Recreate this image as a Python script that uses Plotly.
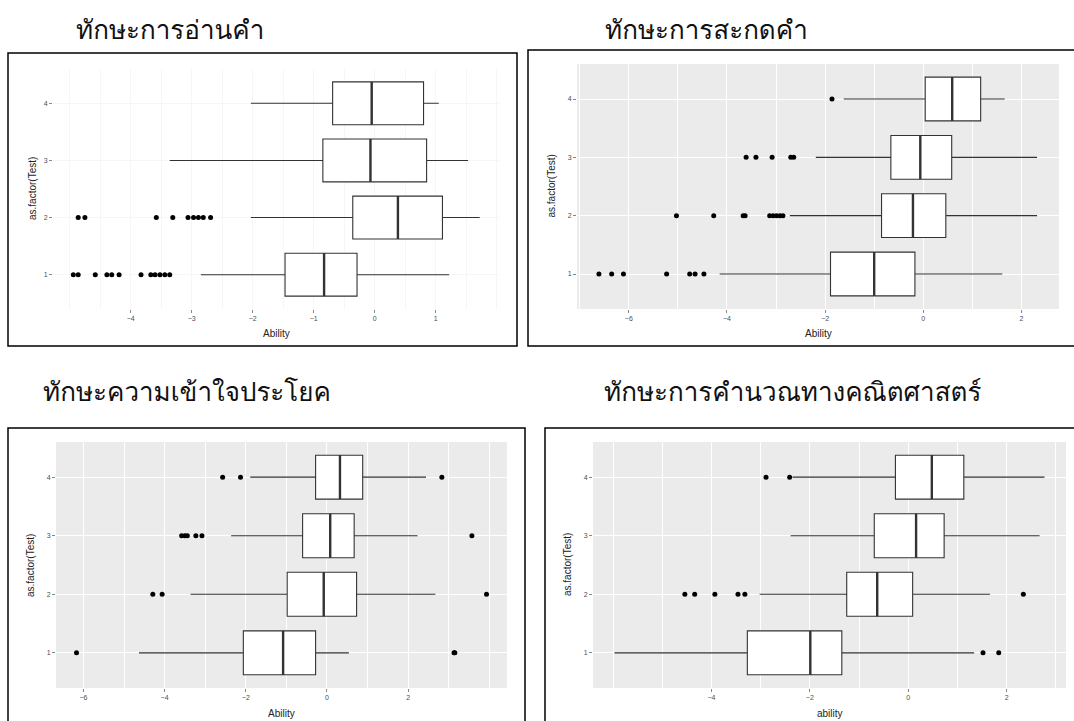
import plotly.graph_objects as go

# ---------------- data ----------------
tests = [1, 2, 3, 4]

# Reading skill
read_q1 = [-1.47, -0.36, -0.85, -0.69]
read_med = [-0.83, 0.38, -0.07, -0.05]
read_q3 = [-0.29, 1.11, 0.85, 0.80]
read_lo = [-2.85, -2.03, -3.36, -2.03]
read_hi = [1.22, 1.72, 1.53, 1.05]
read_out = {
    1: [-4.94, -4.86, -4.58, -4.39, -4.31, -4.19, -3.83, -3.67, -3.60, -3.52, -3.44, -3.36],
    2: [-4.86, -4.75, -3.58, -3.31, -3.06, -2.97, -2.89, -2.81, -2.69],
    3: [],
    4: [],
}

# Spelling skill
spell_q1 = [-1.89, -0.85, -0.66, 0.04]
spell_med = [-1.00, -0.21, -0.06, 0.59]
spell_q3 = [-0.17, 0.46, 0.58, 1.17]
spell_lo = [-4.15, -2.72, -2.19, -1.62]
spell_hi = [1.61, 2.32, 2.32, 1.66]
spell_out = {
    1: [-6.61, -6.35, -6.11, -5.23, -4.76, -4.65, -4.47],
    2: [-5.03, -4.27, -3.67, -3.63, -3.13, -3.06, -2.99, -2.92, -2.86],
    3: [-3.61, -3.41, -3.08, -2.70, -2.64],
    4: [-1.86],
}

# Sentence comprehension skill
sent_q1 = [-2.06, -0.98, -0.60, -0.28]
sent_med = [-1.08, -0.08, 0.08, 0.32]
sent_q3 = [-0.28, 0.73, 0.67, 0.88]
sent_lo = [-4.63, -3.36, -2.36, -1.89]
sent_hi = [0.54, 2.67, 2.23, 2.44]
sent_out = {
    1: [-6.17, 3.13, 3.15],
    2: [-4.29, -4.06, 3.93],
    3: [-3.58, -3.50, -3.44, -3.23, -3.08, 3.57],
    4: [-2.57, -2.13, 2.83],
}

# Mathematical calculation skill
math_q1 = [-3.27, -1.25, -0.69, -0.26]
math_med = [-1.99, -0.63, 0.16, 0.48]
math_q3 = [-1.35, 0.09, 0.73, 1.13]
math_lo = [-5.97, -3.02, -2.39, -2.35]
math_hi = [1.34, 1.66, 2.67, 2.77]
math_out = {
    1: [1.52, 1.84],
    2: [-4.54, -4.34, -3.93, -3.46, -3.32, 2.34],
    3: [],
    4: [-2.89, -2.41],
}

titles = ["ทักษะการอ่านคำ", "ทักษะการสะกดคำ",
          "ทักษะความเข้าใจประโยค", "ทักษะการคำนวณทางคณิตศาสตร์"]
x_titles = ["Ability", "Ability", "Ability", "ability"]
y_title = "as.factor(Test)"
x_ticks = [[-4, -3, -2, -1, 0, 1], [-6, -4, -2, 0, 2],
           [-6, -4, -2, 0, 2], [-4, -2, 0, 2]]

panels = [
    (read_q1, read_med, read_q3, read_lo, read_hi, read_out),
    (spell_q1, spell_med, spell_q3, spell_lo, spell_hi, spell_out),
    (sent_q1, sent_med, sent_q3, sent_lo, sent_hi, sent_out),
    (math_q1, math_med, math_q3, math_lo, math_hi, math_out),
]

# ---------------- layout geometry (pixels) ----------------
W, H = 1074, 721
# plotting-area rectangles: left, top, right, bottom
areas = [(53, 69, 500, 309), (577, 64, 1059, 309),
         (56, 442, 507, 688), (593, 442, 1066, 688)]
# outer frames around each chart
frames = [(8, 53, 517, 346), (528, 50, 1090, 346),
          (8, 428, 525, 740), (545, 428, 1090, 740)]
title_pos = [(170, 30), (706, 30), (187, 391), (792, 391)]
ytitle_x = [32, 551, 30, 567]
xtitle_y = [333, 333, 713, 713]

def px(x):
    return x / W

def py(y):
    return 1 - y / H

BOX_W = 0.75
LINE = "#333333"
TICK_FONT = dict(family="Liberation Sans, Arial, sans-serif", size=7, color="#4d4d4d")
AX_FONT = dict(family="Liberation Sans, Arial, sans-serif", size=10, color="#222222")
THAI_FONT = dict(family="Norasi, Garuda, Loma, Noto Sans Thai, DejaVu Sans, sans-serif",
                 size=26, color="#111111")

fig = go.Figure()
shapes, annotations = [], []
layout = {}

for i, (q1, med, q3, lo, hi, out) in enumerate(panels):
    n = i + 1
    xa, ya = f"x{n}", f"y{n}"
    # data range with 5% padding on each side
    vals = lo + hi + [v for k in out for v in out[k]]
    vmin, vmax = min(vals), max(vals)
    pad = 0.05 * (vmax - vmin)

    fig.add_trace(go.Box(
        orientation="h", y=tests, q1=q1, median=med, q3=q3,
        lowerfence=lo, upperfence=hi, width=BOX_W, whiskerwidth=0,
        fillcolor="white", line=dict(color=LINE, width=1.1),
        boxpoints=False, hoverinfo="skip", showlegend=False,
        xaxis=xa, yaxis=ya))

    # thicker median bars
    mx, my = [], []
    for t, m in zip(tests, med):
        mx += [m, m, None]
        my += [t - BOX_W / 2, t + BOX_W / 2, None]
    fig.add_trace(go.Scatter(x=mx, y=my, mode="lines",
                             line=dict(color=LINE, width=2.4),
                             hoverinfo="skip", showlegend=False,
                             xaxis=xa, yaxis=ya))

    ox, oy = [], []
    for t in tests:
        ox += out[t]
        oy += [t] * len(out[t])
    fig.add_trace(go.Scatter(x=ox, y=oy, mode="markers",
                             marker=dict(color="black", size=5),
                             hoverinfo="skip", showlegend=False,
                             xaxis=xa, yaxis=ya))

    l, t_, r, b = areas[i]
    grid = "#f6f6f6" if i == 0 else "white"
    key = "" if n == 1 else str(n)
    layout[f"xaxis{key}"] = dict(
        domain=[px(l), px(r)], anchor=ya, range=[vmin - pad, vmax + pad],
        tickvals=x_ticks[i], ticks="outside", ticklen=3, tickcolor="#888888",
        tickfont=TICK_FONT, showgrid=True, gridcolor=grid, gridwidth=1.2,
        minor=dict(dtick=1 if i > 0 else 0.5, showgrid=True, gridcolor=grid, gridwidth=0.6),
        zeroline=False, showline=False, fixedrange=True)
    layout[f"yaxis{key}"] = dict(
        domain=[py(b), py(t_)], anchor=xa, range=[0.4, 4.6],
        tickvals=tests, ticktext=[str(v) for v in tests],
        ticks="outside", ticklen=3, tickcolor="#888888", tickfont=TICK_FONT,
        showgrid=True, gridcolor=grid, gridwidth=1.2,
        zeroline=False, showline=False, fixedrange=True)

    # grey panel backgrounds
    if i > 0:
        shapes.append(dict(type="rect", xref=f"{xa} domain", yref=f"{ya} domain",
                           x0=0, x1=1, y0=0, y1=1, fillcolor="#EBEBEB",
                           line=dict(width=0), layer="below"))
    # frame
    fl, ft, fr, fb = frames[i]
    shapes.append(dict(type="rect", xref="paper", yref="paper",
                       x0=px(fl), x1=px(fr), y0=py(fb), y1=py(ft),
                       line=dict(color="black", width=1.5), fillcolor="rgba(0,0,0,0)"))

    tx, ty = title_pos[i]
    annotations.append(dict(text=titles[i], x=px(tx), y=py(ty), xref="paper", yref="paper",
                            showarrow=False, font=THAI_FONT, xanchor="center", yanchor="middle"))
    annotations.append(dict(text=x_titles[i], x=(px(l) + px(r)) / 2, y=py(xtitle_y[i]),
                            xref="paper", yref="paper", showarrow=False, font=AX_FONT,
                            xanchor="center", yanchor="middle"))
    annotations.append(dict(text=y_title, x=px(ytitle_x[i]), y=(py(t_) + py(b)) / 2,
                            xref="paper", yref="paper", showarrow=False, font=AX_FONT,
                            textangle=-90, xanchor="center", yanchor="middle"))

fig.update_layout(
    width=W, height=H, margin=dict(l=0, r=0, t=0, b=0),
    paper_bgcolor="white", plot_bgcolor="white",
    shapes=shapes, annotations=annotations, showlegend=False, **layout)

fig.write_html("out.html", config={"displayModeBar": False})
